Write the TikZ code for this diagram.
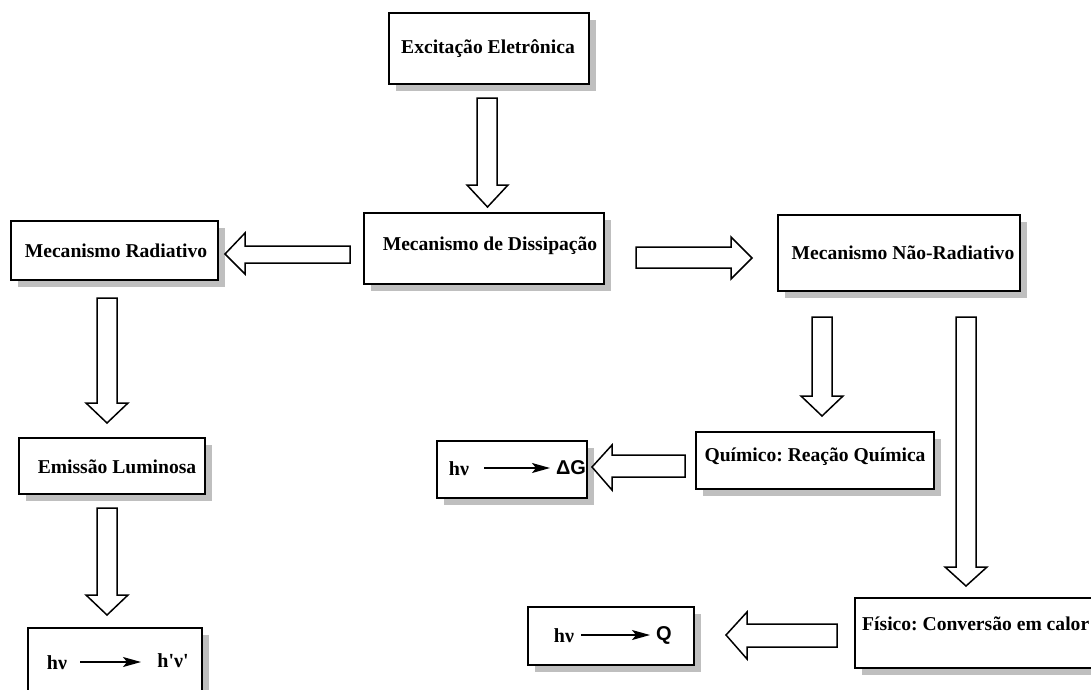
\documentclass[tikz,border=0pt]{standalone}
\usepackage{fontspec}
\setmainfont{Liberation Serif}
\newfontfamily\sansf{Liberation Sans}
\usetikzlibrary{arrows.meta,shadows}
\frenchspacing
\begin{document}
\begin{tikzpicture}[x=1pt,y=-1pt,
  box/.style={draw=black,line width=1.6pt,fill=white,inner sep=0pt,anchor=north west,
    drop shadow={shadow xshift=7pt,shadow yshift=-7pt,fill=black!25,opacity=1}},
  lbl/.style={font=\fontsize{19.6}{22}\selectfont\bfseries,inner sep=0pt},
  eq/.style={font=\fontsize{20}{22}\selectfont\bfseries,inner sep=0pt,anchor=base},
  eqs/.style={font=\fontsize{20}{22}\selectfont\sansf\bfseries,inner sep=0pt,anchor=base},
  barrow/.style={draw=black,line width=1.5pt,fill=white,line join=miter},
  thin/.style={line width=1.4pt,-{Stealth[length=18pt,width=10pt,inset=4pt]}}
]
\useasboundingbox (0,0) rectangle (1091,689);

% boxes
\node[box,minimum width=200pt,minimum height=71pt] (exc) at (388,12) {};
\node[lbl] (exct) at (488,49) {Excitação Eletrônica};

\node[box,minimum width=240pt,minimum height=71pt] (dis) at (363,212) {};
\node[lbl] (dist) at (490,246) {Mecanismo de Dissipação};

\node[box,minimum width=207pt,minimum height=59pt] (rad) at (10,220) {};
\node[lbl] (radt) at (116,251) {Mecanismo Radiativo};

\node[box,minimum width=242pt,minimum height=76pt] (nrad) at (777,214) {};
\node[lbl] (nradt) at (903,253) {Mecanismo Não-Radiativo};

\node[box,minimum width=186pt,minimum height=56pt] (emi) at (18,437) {};
\node[lbl] (emit) at (117,467) {Emissão Luminosa};

\node[box,minimum width=174pt,minimum height=80pt] (hvb) at (27,627) {};
\node[eq] (hva) at (57,669) {hν};
\node[eq] (hvc) at (173,667) {h\textquotesingle ν\textquotesingle};
\draw[thin] (80,662) coordinate (hvs) -- (141,662) coordinate (hve);

\node[box,minimum width=238pt,minimum height=57pt] (qui) at (695,431) {};
\node[lbl] (quit) at (815,457) {Químico: Reação Química};

\node[box,minimum width=150pt,minimum height=57pt] (dgb) at (436,440) {};
\node[eq] (dga) at (459,475) {hν};
\node[eqs] (dgc) at (571,474) {ΔG};
\draw[thin] (484,468) coordinate (dgs) -- (550,468) coordinate (dge);

\node[box,minimum width=250pt,minimum height=70pt] (fis) at (854,597) {};
\node[lbl,anchor=west] (fist) at (862,624) {Físico: Conversão em calor};

\node[box,minimum width=166pt,minimum height=58pt] (qb) at (527,606) {};
\node[eq] (qa) at (564,642) {hν};
\node[eqs] (qc) at (664,640) {Q};
\draw[thin] (581,635) coordinate (qs) -- (650,635) coordinate (qe);

% block arrows
% Exc -> Dis
\draw[barrow] (477,98) -- (497,98) -- (497,185) -- (508,185) -- (487.5,207) -- (467,185) -- (477,185) -- cycle;
% Dis -> Rad
\draw[barrow] (350,246) -- (350,263) -- (245,263) -- (245,274) -- (225,254) -- (245,233) -- (245,246) -- cycle;
% Dis -> NRad
\draw[barrow] (636,247) -- (636,268) -- (731,268) -- (731,279) -- (752,258) -- (731,237) -- (731,247) -- cycle;
% Rad -> Emi
\draw[barrow] (97,298) -- (117,298) -- (117,403) -- (128,403) -- (107,423) -- (86,403) -- (97,403) -- cycle;
% Emi -> hv
\draw[barrow] (97,508) -- (117,508) -- (117,595) -- (128,595) -- (107,615) -- (86,595) -- (97,595) -- cycle;
% NRad -> Qui
\draw[barrow] (812,317) -- (832,317) -- (832,396) -- (843,396) -- (822,416) -- (801,396) -- (812,396) -- cycle;
% NRad -> Fis
\draw[barrow] (956,317) -- (976,317) -- (976,567) -- (987,567) -- (966,586) -- (945,567) -- (956,567) -- cycle;
% Qui -> dG
\draw[barrow] (685,455) -- (685,477) -- (612,477) -- (612,490) -- (592,467) -- (612,445) -- (612,455) -- cycle;
% Fis -> Q
\draw[barrow] (837,624) -- (837,647) -- (747,647) -- (747,659) -- (726,635) -- (747,612) -- (747,624) -- cycle;
\end{tikzpicture}
\end{document}
